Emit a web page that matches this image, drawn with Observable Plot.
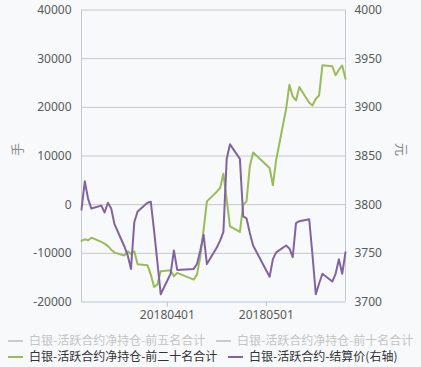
<!DOCTYPE html>
<html>
<head>
<meta charset="utf-8">
<script src="https://cdn.jsdelivr.net/npm/d3@7"></script>
<script src="https://cdn.jsdelivr.net/npm/@observablehq/plot@0.6"></script>
<style>
  html, body { margin: 0; padding: 0; background: #f7f9fb; }
  body { width: 421px; height: 367px; position: relative; overflow: hidden;
         font-family: "Noto Sans", "Noto Sans CJK SC", sans-serif; }
  #chart { position: absolute; left: 0; top: 0; }
  .lg { position: absolute; font-size: 12px; white-space: nowrap; line-height: 14px;
        font-family: "Noto Sans CJK SC", "Noto Sans", sans-serif; }
  .lg .sym { display: inline-block; width: 15px; height: 2px; vertical-align: middle; margin-right: 6px; position: relative; top: -1px; }
</style>
</head>
<body>
<div id="chart"></div>
<div id="legend"></div>
<script>
const dates = [
  "2018-03-06","2018-03-07","2018-03-08","2018-03-09",
  "2018-03-12","2018-03-13","2018-03-14","2018-03-15","2018-03-16",
  "2018-03-19","2018-03-20","2018-03-21","2018-03-22","2018-03-23",
  "2018-03-26","2018-03-27","2018-03-28","2018-03-29","2018-03-30",
  "2018-04-02","2018-04-03","2018-04-04",
  "2018-04-09","2018-04-10","2018-04-11","2018-04-12","2018-04-13",
  "2018-04-16","2018-04-17","2018-04-18","2018-04-19","2018-04-20",
  "2018-04-23","2018-04-24","2018-04-25","2018-04-26","2018-04-27",
  "2018-05-02","2018-05-03","2018-05-04",
  "2018-05-07","2018-05-08","2018-05-09","2018-05-10","2018-05-11",
  "2018-05-14","2018-05-15","2018-05-16","2018-05-17","2018-05-18",
  "2018-05-21","2018-05-22","2018-05-23","2018-05-24","2018-05-25"
];
const netTop20 = [
  -7450,-7120,-7330,-6780,
  -7660,-8010,-8520,-9240,-9850,
  -10430,-9590,-10160,-9590,-12220,
  -12460,-14370,-16900,-16420,-13690,
  -13490,-14720,-14020,
  -15400,-14370,-10680,-5130,680,
  2670,3430,6360,1030,-4460,
  -5610,0,680,7860,10740,
  7540,4000,9240,
  19650,24640,22230,21410,24160,
  20940,20390,21760,22440,28640,
  28440,26590,27720,28600,25870
];
const settlePrice = [
  3795,3824,3806,3796,
  3799,3792,3802,3796,3780,
  3757,3748,3734,3782,3793,
  3802,3803,3773,3741,3708,
  3729,3753,3733,
  3734,3739,3753,3769,3739,
  3756,3763,3772,3847,3862,
  3847,3788,3786,3771,3758,
  3726,3744,3751,
  3758,3755,3746,3781,3783,
  3785,3748,3708,3719,3729,
  3721,3729,3744,3729,3751
];
const leftTicks = [-20000,-10000,0,10000,20000,30000,40000];
const rightTicks = [3700,3750,3800,3850,3900,3950,4000];
const xTicks = ["2018-04-01","2018-05-01"];
const seriesNames = [
  "白银-活跃合约净持仓-前五名合计",
  "白银-活跃合约净持仓-前十名合计",
  "白银-活跃合约净持仓-前二十名合计",
  "白银-活跃合约-结算价(右轴)"
];
const leftTitle = "手";
const rightTitle = "元";

const parse = d3.utcParse("%Y-%m-%d");
const L0 = -20000, L1 = 40000, R0 = 3700, R1 = 4000;
const toLeft = p => L0 + (p - R0) / (R1 - R0) * (L1 - L0);
const toRight = v => R0 + (v - L0) / (L1 - L0) * (R1 - R0);

const rows = dates.map((d, i) => ({date: parse(d), net: netTop20[i], price: toLeft(settlePrice[i])}));
const xDomain = [parse(dates[0]), parse(dates[dates.length - 1])];

const GREEN = "#9bbb59", PURPLE = "#8064a2", TXT = "#595959";

const plot = Plot.plot({
  width: 421,
  height: 325,
  marginLeft: 81,
  marginRight: 76,
  marginTop: 9.5,
  marginBottom: 23.5,
  style: {background: "transparent", fontSize: "12px", fontFamily: "'Noto Sans', 'Noto Sans CJK SC', sans-serif", color: TXT},
  x: {type: "utc", domain: xDomain},
  y: {domain: [L0, L1]},
  marks: [
    Plot.ruleY(leftTicks.slice(1), {stroke: "#c8c8c8", strokeWidth: 1}),
    Plot.ruleX(xDomain, {stroke: "#c4c8d0", strokeWidth: 1}),
    Plot.ruleY([L0], {stroke: "#b8c4d6", strokeWidth: 1}),
    Plot.axisY({anchor: "left", ticks: leftTicks, tickSize: 0, tickPadding: 10, tickFormat: d => String(d), label: null, color: TXT}),
    Plot.axisY({anchor: "right", ticks: leftTicks, tickSize: 0, tickPadding: 9, tickFormat: d => String(Math.round(toRight(d))), label: null, color: TXT}),
    Plot.axisX({ticks: xTicks.map(parse), tickSize: 5, tickPadding: 3, tickFormat: d3.utcFormat("%Y%m%d"), label: null, stroke: "#b8c4d6", color: TXT}),
    Plot.text([leftTitle], {frameAnchor: "left", dx: -64, rotate: -90, fill: "#8a8a8a", fontSize: 13}),
    Plot.text([rightTitle], {frameAnchor: "right", dx: 56, rotate: 90, fill: "#8a8a8a", fontSize: 13}),
    Plot.line(rows, {x: "date", y: "net", stroke: GREEN, strokeWidth: 2}),
    Plot.line(rows, {x: "date", y: "price", stroke: PURPLE, strokeWidth: 2})
  ]
});
document.getElementById("chart").appendChild(plot);

const legendItems = [
  {name: seriesNames[0], color: "#cccccc", text: "#c4c4c4", left: 8, top: 333},
  {name: seriesNames[1], color: "#cccccc", text: "#c4c4c4", left: 216, top: 333},
  {name: seriesNames[2], color: GREEN, text: "#333333", left: 8, top: 349},
  {name: seriesNames[3], color: PURPLE, text: "#333333", left: 228, top: 349}
];
const lg = document.getElementById("legend");
for (const it of legendItems) {
  const div = document.createElement("div");
  div.className = "lg";
  div.style.left = it.left + "px";
  div.style.top = it.top + "px";
  div.style.color = it.text;
  const s = document.createElement("span");
  s.className = "sym";
  s.style.background = it.color;
  div.appendChild(s);
  div.appendChild(document.createTextNode(it.name));
  lg.appendChild(div);
}
</script>
</body>
</html>
